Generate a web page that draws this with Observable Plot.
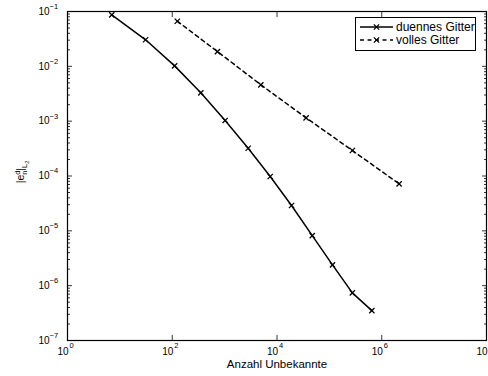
<!DOCTYPE html>
<html><head><meta charset="utf-8">
<script src="https://cdn.jsdelivr.net/npm/d3@7"></script>
<script src="https://cdn.jsdelivr.net/npm/@observablehq/plot@0.6"></script>
<style>
body{margin:0;background:#fff}
svg{font-family:"Liberation Sans",Arial,Helvetica,sans-serif}
</style>
</head><body><div id="chart"></div>
<script>
// Data
const sparseN = [7, 31, 111, 351, 1023, 2815, 7423, 18943, 47103, 114687, 274431, 647167];
const sparseErr = [0.087, 0.0305, 0.0102, 0.00329, 0.00103, 3.21e-4, 9.8e-5, 2.9e-5, 8.2e-6, 2.4e-6, 7.4e-7, 3.5e-7];
const fullN = [125, 729, 4913, 35937, 274625, 2146689];
const fullErr = [0.0665, 0.0186, 0.0046, 0.00115, 2.92e-4, 7.2e-5];
const seriesNames = ["duennes Gitter", "volles Gitter"];
const xTicks = [1, 1e2, 1e4, 1e6, 1e8];
const xTickExp = ["0", "2", "4", "6", "8"];
const yTicks = [1e-7, 1e-6, 1e-5, 1e-4, 1e-3, 1e-2, 1e-1];
const yTickExp = ["\u22127", "\u22126", "\u22125", "\u22124", "\u22123", "\u22122", "\u22121"];
const xLabel = "Anzahl Unbekannte";

const sparse = sparseN.map((n, i) => ({n, e: sparseErr[i]}));
const full = fullN.map((n, i) => ({n, e: fullErr[i]}));
const yMinor = [];
for (let k = -7; k < -1; k++) for (let m = 2; m <= 9; m++) yMinor.push(m * Math.pow(10, k));

const W = 488, H = 376;
const chart = Plot.plot({
  width: W, height: H,
  marginLeft: 67, marginRight: 2, marginTop: 11, marginBottom: 36,
  style: {background: "white", overflow: "visible", fontFamily: '"Liberation Sans",Arial,sans-serif'},
  x: {type: "log", domain: [1, 1e8]},
  y: {type: "log", domain: [1e-7, 1e-1]},
  marks: [
    // ticks (inward), all four sides
    Plot.axisY(yMinor, {anchor: "left", tickSize: -3, tickFormat: () => "", label: null, strokeWidth: 0.8}),
    Plot.axisY(yMinor, {anchor: "right", tickSize: -3, tickFormat: () => "", label: null, strokeWidth: 0.8}),
    Plot.axisY(yTicks, {anchor: "left", tickSize: -5, tickFormat: () => "", label: null, strokeWidth: 0.8}),
    Plot.axisY(yTicks, {anchor: "right", tickSize: -5, tickFormat: () => "", label: null, strokeWidth: 0.8}),
    Plot.axisX(xTicks, {anchor: "bottom", tickSize: -5, tickFormat: () => "", label: null, strokeWidth: 0.8}),
    Plot.axisX(xTicks, {anchor: "top", tickSize: -5, tickFormat: () => "", label: null, strokeWidth: 0.8}),
    // tick labels with superscript exponents
    Plot.text(yTicks, {y: d => d, frameAnchor: "left", text: () => "10", textAnchor: "end", dx: -18, fontSize: 10, fill: "black"}),
    Plot.text(yTicks, {y: d => d, frameAnchor: "left", text: (d, i) => yTickExp[i], textAnchor: "start", dx: -18, dy: -5, fontSize: 7.5, fill: "black"}),
    Plot.text(xTicks, {x: d => d, frameAnchor: "bottom", text: () => "10", textAnchor: "end", dx: 1, dy: 14, fontSize: 10, fill: "black"}),
    Plot.text(xTicks, {x: d => d, frameAnchor: "bottom", text: (d, i) => xTickExp[i], textAnchor: "start", dx: 2, dy: 7, fontSize: 7.5, fill: "black"}),
    Plot.text([xLabel], {frameAnchor: "bottom", dy: 27, fontSize: 11.5, fill: "black"}),
    // data
    Plot.line(sparse, {x: "n", y: "e", stroke: "black", strokeWidth: 1.5}),
    Plot.dot(sparse, {x: "n", y: "e", symbol: "times", r: 2.5, stroke: "black", strokeWidth: 1.3}),
    Plot.line(full, {x: "n", y: "e", stroke: "black", strokeWidth: 1.5, strokeDasharray: "4,3.5"}),
    Plot.dot(full, {x: "n", y: "e", symbol: "times", r: 2.5, stroke: "black", strokeWidth: 1.3}),
    Plot.frame({stroke: "black", strokeWidth: 1.2})
  ]
});
document.getElementById("chart").appendChild(chart);

const svg = d3.select(chart);
// y-axis label |e_n^d|_{L_2}
const yl = svg.append("text")
  .attr("transform", "translate(24,172) rotate(-90)")
  .attr("text-anchor", "middle")
  .attr("font-size", 10.5)
  .attr("fill", "black");
yl.append("tspan").text("|e");
yl.append("tspan").attr("font-size", 7.5).attr("dy", 3).text("n");
yl.append("tspan").attr("font-size", 7.5).attr("dx", -4.2).attr("dy", -7).text("d");
yl.append("tspan").attr("dy", 4).text("|");
yl.append("tspan").attr("font-size", 7.5).attr("dy", 3).text("L");
yl.append("tspan").attr("font-size", 5.5).attr("dy", 2).text("2");

// legend
const lg = svg.append("g").attr("text-anchor", "start");
lg.append("rect").attr("x", 355.5).attr("y", 17.5).attr("width", 120).attr("height", 33)
  .style("fill", "white").style("stroke", "black").style("stroke-width", "1");
const rows = [{y: 27, dash: null}, {y: 40, dash: "4,3.5"}];
const timesPath = d3.symbol(d3.symbolTimes, 20)();
rows.forEach((r, i) => {
  lg.append("line").attr("x1", 360).attr("x2", 393).attr("y1", r.y).attr("y2", r.y)
    .attr("stroke", "black").attr("stroke-width", 1.5).attr("stroke-dasharray", r.dash);
  lg.append("path").attr("d", timesPath).attr("transform", `translate(376.5,${r.y})`)
    .attr("fill", "none").attr("stroke", "black").attr("stroke-width", 1.3);
  lg.append("text").attr("x", 396).attr("y", r.y).attr("dy", "0.35em").attr("text-anchor", "start")
    .attr("font-size", 12).attr("fill", "black").text(seriesNames[i]);
});
</script>
</body></html>
